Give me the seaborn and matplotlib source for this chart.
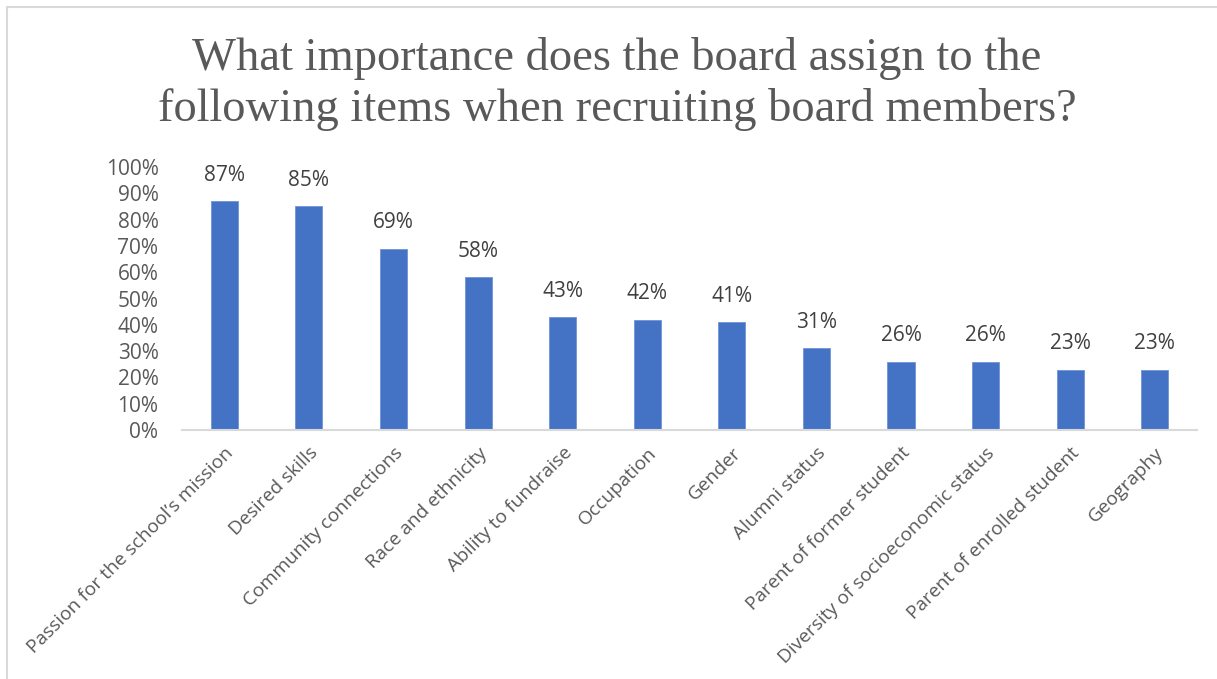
import matplotlib
matplotlib.use("Agg")
import matplotlib.pyplot as plt
import seaborn as sns
import pandas as pd
from matplotlib.lines import Line2D

categories = [
    "Passion for the school\u2019s mission",
    "Desired skills",
    "Community connections",
    "Race and ethnicity",
    "Ability to fundraise",
    "Occupation",
    "Gender",
    "Alumni status",
    "Parent of former student",
    "Diversity of socioeconomic status",
    "Parent of enrolled student",
    "Geography",
]
values = [87, 85, 69, 58, 43, 42, 41, 31, 26, 26, 23, 23]
y_ticks = list(range(0, 101, 10))
y_tick_labels = [f"{t}%" for t in y_ticks]
title = "What importance does the board assign to the\nfollowing items when recruiting board members?"

df = pd.DataFrame({"item": categories, "pct": values})

sns.set_style("white")
plt.rcParams["font.family"] = ["Open Sans", "DejaVu Sans"]

fig = plt.figure(figsize=(12.17, 6.79), dpi=100)
ax = fig.add_axes([0.1496, 0.3667, 0.8340, 0.3873])

sns.barplot(data=df, x="item", y="pct", color="#4472C4", width=0.32,
            saturation=1, ax=ax, edgecolor="#6f93d6", linewidth=0.6)

ax.set_ylim(0, 100)
ax.set_xlim(-0.5, len(categories) - 0.5)
ax.set_yticks(y_ticks)
ax.set_yticklabels(y_tick_labels)
ax.set_xlabel("")
ax.set_ylabel("")
ax.tick_params(axis="y", length=0, pad=17, labelsize=15, labelcolor="#595959")
ax.tick_params(axis="x", length=0, pad=10, labelsize=13.8, labelcolor="#595959")
for lbl in ax.get_xticklabels():
    lbl.set_rotation(45)
    lbl.set_ha("right")
    lbl.set_rotation_mode("anchor")

for s in ["top", "right", "left"]:
    ax.spines[s].set_visible(False)
ax.spines["bottom"].set_color("#D9D9D9")
ax.spines["bottom"].set_linewidth(1.5)

for i, v in enumerate(values):
    ax.annotate(f"{v}%", (i, v), xytext=(0, 11), textcoords="offset points",
                ha="center", va="bottom", fontsize=15, color="#404040")

fig.text(0.507, 0.876, title, ha="center", va="center", fontsize=33.5,
         color="#595959", family=["Liberation Serif", "DejaVu Serif"],
         linespacing=1.26)

# chart frame
fig.add_artist(Line2D([7 / 1217, 1], [1 - 7 / 679, 1 - 7 / 679],
                      transform=fig.transFigure, color="#D9D9D9", lw=1.5))
fig.add_artist(Line2D([7 / 1217, 7 / 1217], [0, 1 - 7 / 679],
                      transform=fig.transFigure, color="#D9D9D9", lw=1.5))

fig.savefig("out.png", dpi=100)
